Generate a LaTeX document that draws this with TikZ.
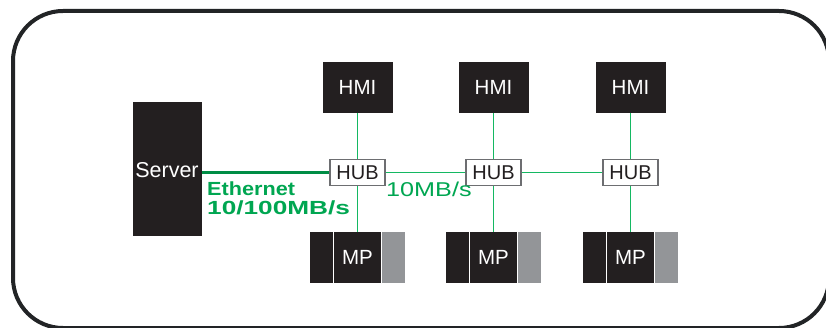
\documentclass[tikz,border=0pt]{standalone}
\usepackage{fontspec}
\setmainfont{Liberation Sans}
\definecolor{ink}{HTML}{231F20}
\definecolor{frame}{HTML}{222426}
\definecolor{mpgray}{HTML}{939598}
\definecolor{hubedge}{HTML}{6D6E71}
\definecolor{netgreen}{HTML}{14B862}
\definecolor{labgreen}{HTML}{00A651}
\begin{document}
\begin{tikzpicture}[x=1pt,y=-1pt,
  blackbox/.style={fill=ink,draw=none,inner sep=0pt,text=white,font=\fontsize{20.5}{22}\selectfont},
  hubbox/.style={draw=hubedge,line width=1.2pt,fill=white,inner sep=0pt,minimum width=55pt,minimum height=26pt,text=ink,font=\fontsize{20}{21}\selectfont},
  graybox/.style={fill=mpgray,draw=none,inner sep=0pt},
  link/.style={draw=netgreen,line width=1.6pt},
  trunk/.style={draw=labgreen!85!black,line width=2.4pt},
  greenlab/.style={text=labgreen,inner sep=0pt,anchor=base west}
]
\useasboundingbox (0,0) rectangle (826,328);
\clip (0,0) rectangle (826,328);

% outer frame
\draw[frame,line width=4pt,rounded corners=50pt] (13,11) rectangle (829,328);

% server
\node[blackbox,minimum width=69pt,minimum height=134pt] (srv) at (167.5,169) {};
\node[text=white,inner sep=0pt,font=\fontsize{21.5}{23}\selectfont] (srvlab) at (167,170) {Server};

% hubs
\node[hubbox] (hub1) at (357.5,172.5) {HUB};
\node[hubbox] (hub2) at (493.5,172.5) {HUB};
\node[hubbox] (hub3) at (630.5,172.5) {HUB};

% operator panels
\foreach \i/\x in {1/357.5,2/493.5,3/630.5}{
  \node[blackbox,minimum width=70pt,minimum height=51pt] (hmi\i) at (\x,87.5) {HMI};
}

% MP units: small black block, main block, gray block
\foreach \i/\x in {1/357.5,2/493.5,3/630.5}{
  \node[blackbox,minimum width=47pt,minimum height=51pt] (mp\i) at (\x,257.5) {\raisebox{-5pt}{MP}};
  \node[blackbox,minimum width=23pt,minimum height=51pt,anchor=east] (mpl\i) at ([xshift=-1pt]mp\i.west) {};
  \node[graybox,minimum width=23pt,minimum height=51pt,anchor=west] (mpr\i) at ([xshift=1pt]mp\i.east) {};
}

% network links
\draw[trunk] (srv.east |- hub1.west) -- (hub1.west);
\draw[link] (hub1) -- (hub2);
\draw[link] (hub2) -- (hub3);
\foreach \i in {1,2,3}{
  \draw[link] (hmi\i.south) -- (hub\i.north);
  \draw[link] (hub\i.south) -- (mp\i.north);
}

% labels
\node[greenlab,font=\fontsize{19}{21}\selectfont\bfseries] (eth) at (207,196) {\scalebox{1.14}[1]{Ethernet}};
\node[greenlab,font=\fontsize{19}{21}\selectfont\bfseries] (ethspd) at (207,215) {\scalebox{1.38}[1]{10/100MB/s}};
\node[greenlab,font=\fontsize{20}{22}\selectfont] (hubspd) at (386,197) {\scalebox{1.26}[1]{10MB/s}};
\end{tikzpicture}
\end{document}
